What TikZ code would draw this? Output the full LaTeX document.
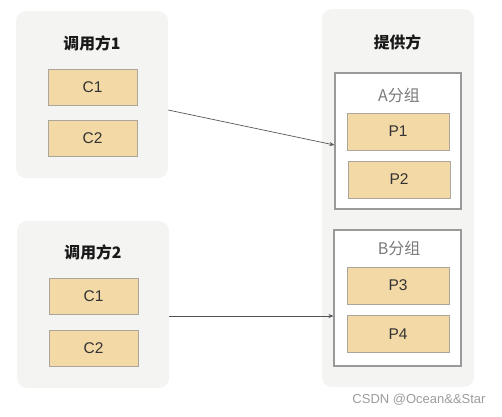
\documentclass[tikz,border=0pt]{standalone}
\usepackage{fontspec}
\setmainfont{Liberation Sans}
\newfontfamily\cjk{Noto Sans CJK SC}
\usetikzlibrary{calc,arrows.meta}
\definecolor{panelbg}{HTML}{F4F4F2}
\definecolor{itemfill}{HTML}{F3D9A6}
\definecolor{itemedge}{HTML}{ABA59B}
\definecolor{groupedge}{HTML}{9A9A9A}
\definecolor{grouptext}{HTML}{7A7A7A}
\definecolor{linecol}{HTML}{555555}
\definecolor{marktext}{HTML}{9C9C9C}
\tikzset{
  panel/.style={fill=panelbg, draw=none, rounded corners=10pt, minimum width=152pt, inner sep=0pt},
  item/.style={fill=itemfill, draw=itemedge, line width=0.9pt, minimum width=89pt, minimum height=36pt, inner sep=0pt, font=\fontsize{15.5}{18}\selectfont, text=black!80},
  pitem/.style={item, minimum width=102pt, minimum height=37pt},
  group/.style={fill=white, draw=groupedge, line width=1.1pt, inner sep=0pt, minimum height=136pt},
  title/.style={font=\cjk\bfseries\fontsize{15.8}{18}\selectfont, text=black!90, inner sep=0pt},
  glabel/.style={font=\cjk\fontsize{16}{18}\selectfont, text=grouptext, inner sep=0pt},
  conn/.style={draw=linecol, line width=0.7pt, -{Stealth[length=5pt,width=4pt]}}
}
\begin{document}
\begin{tikzpicture}[x=1pt,y=-1pt]
\useasboundingbox (0,0) rectangle (502,416);
% panels
\node[panel, minimum height=167pt] (box1) at (92,94.5) {};
\node[panel, minimum height=167pt] (box2) at (93,304.5) {};
\node[panel, minimum height=378pt] (prov) at (398,198) {};
% titles
\node[title] (t1) at (92,43) {调用方1};
\node[title] (t2) at (93,252) {调用方2};
\node[title] (t3) at (397.5,42) {提供方};
% consumer items
\node[item] (c1a) at (92.5,87) {C1};
\node[item] (c2a) at (92.5,138.5) {C2};
\node[item] (c1b) at (93.5,296.5) {C1};
\node[item] (c2b) at (93.5,348.5) {C2};
% groups
\node[group, minimum width=126pt] (ga) at (398,141) {};
\node[group, minimum width=127pt] (gb) at (397.5,298) {};
\node[glabel] (la) at (399,95) {A分组};
\node[glabel] (lb) at (399,248) {B分组};
\node[pitem] (p1) at (398,131.5) {P1};
\node[pitem] (p2) at (399,179.5) {P2};
\node[pitem] (p3) at (398,285.5) {P3};
\node[pitem] (p4) at (398,334) {P4};
% connectors
\coordinate (s1) at ($(box1.east)+(0,15.5)$);
\coordinate (e1) at ($(ga.west)+(0,4)$);
\coordinate (s2) at ($(box2.east)+(0,11.5)$);
\coordinate (e2) at ($(gb.west)+(0,18)$);
\draw[conn] (s1) -- (e1);
\draw[conn] (s2) -- (e2);
% watermark
\node[font=\fontsize{13}{15}\selectfont, text=marktext, inner sep=0pt] (wm) at (419,400) {CSDN @Ocean\&\&Star};
\end{tikzpicture}
\end{document}
